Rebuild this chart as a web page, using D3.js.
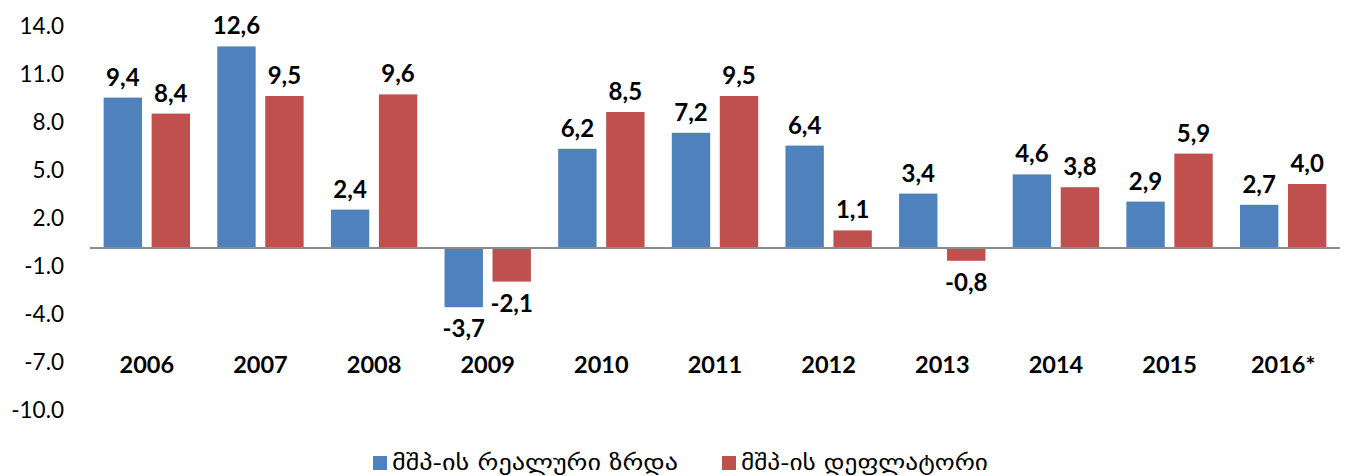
<!DOCTYPE html>
<html>
<head>
<meta charset="utf-8">
<script src="https://cdn.jsdelivr.net/npm/d3@7"></script>
<style>
  body { margin: 0; background: #fff; }
  text { font-family: Lato, "Open Sans", "DejaVu Sans", sans-serif; }
  .geo { font-family: "DejaVu Sans", sans-serif; }
</style>
</head>
<body>
<svg id="chart" width="1345" height="476"></svg>
<script>
// data
var years = ["2006", "2007", "2008", "2009", "2010", "2011", "2012", "2013", "2014", "2015", "2016*"];
var realGrowth = [9.4, 12.6, 2.4, -3.7, 6.2, 7.2, 6.4, 3.4, 4.6, 2.9, 2.7];
var deflator = [8.4, 9.5, 9.6, -2.1, 8.5, 9.5, 1.1, -0.8, 3.8, 5.9, 4.0];
var seriesNames = ["მშპ-ის რეალური ზრდა", "მშპ-ის დეფლატორი"];
var yTicks = [14, 11, 8, 5, 2, -1, -4, -7, -10];

var colors = ["#4F81BD", "#C0504D"];

// plain hyphen instead of unicode minus
function fmt(v, sep) { return v.toFixed(1).replace(".", sep); }

var svg = d3.select("#chart");

var x = d3.scaleBand()
    .domain(years)
    .range([90, 1340])
    .paddingInner(0.24)
    .paddingOuter(0.12);

var x1 = d3.scaleBand()
    .domain([0, 1])
    .range([0, x.bandwidth()])
    .paddingInner(0.2);

var y = d3.scaleLinear()
    .domain([-10, 14])
    .range([408, 24]);

// y axis labels (no line)
var yAxis = d3.axisLeft(y)
    .tickValues(yTicks)
    .tickFormat(function(d) { return fmt(d, "."); })
    .tickSize(0)
    .tickPadding(0);

svg.append("g")
    .attr("transform", "translate(64,0)")
    .call(yAxis)
    .call(function(g) { g.select(".domain").remove(); })
    .selectAll("text")
    .attr("font-family", "Lato, 'Open Sans', sans-serif")
    .attr("font-size", 22.5)
    .attr("fill", "#000")
    .attr("dy", "0.4em");

var rows = years.map(function(yr, i) { return {year: yr, vals: [realGrowth[i], deflator[i]]}; });

var groups = svg.selectAll("g.grp")
    .data(rows)
    .enter().append("g")
    .attr("class", "grp")
    .attr("transform", function(d) { return "translate(" + x(d.year) + ",0)"; });

groups.selectAll("rect")
    .data(function(d) { return d.vals.map(function(v, k) { return {k: k, v: v}; }); })
    .enter().append("rect")
    .attr("x", function(d) { return x1(d.k); })
    .attr("width", x1.bandwidth())
    .attr("y", function(d) { return y(Math.max(0, d.v)); })
    .attr("height", function(d) { return Math.abs(y(d.v) - y(0)); })
    .attr("fill", function(d) { return colors[d.k]; });

groups.selectAll("text.val")
    .data(function(d) { return d.vals.map(function(v, k) { return {k: k, v: v}; }); })
    .enter().append("text")
    .attr("class", "val")
    .attr("x", function(d) { return x1(d.k) + x1.bandwidth() / 2; })
    .attr("y", function(d) { return d.v >= 0 ? y(d.v) - 12 : y(d.v) + 30; })
    .attr("text-anchor", "middle")
    .attr("font-size", 24)
    .attr("font-weight", "bold")
    .attr("fill", "#000")
    .text(function(d) { return fmt(d.v, ","); });

// zero line
svg.append("line")
    .attr("x1", 90).attr("x2", 1340)
    .attr("y1", y(0)).attr("y2", y(0))
    .attr("stroke", "#8c8c8c")
    .attr("stroke-width", 2);

// category labels
svg.selectAll("text.cat")
    .data(years)
    .enter().append("text")
    .attr("class", "cat")
    .attr("x", function(d) { return x(d) + x.bandwidth() / 2; })
    .attr("y", 373)
    .attr("text-anchor", "middle")
    .attr("font-size", 23.5)
    .attr("font-weight", "bold")
    .text(function(d) { return d; });

// legend
var legendX = [373, 722];
var legendW = [286, 247];
var legend = svg.selectAll("g.leg")
    .data(seriesNames)
    .enter().append("g")
    .attr("class", "leg")
    .attr("transform", function(d, i) { return "translate(" + legendX[i] + ",456)"; });

legend.append("rect")
    .attr("width", 14).attr("height", 14)
    .attr("fill", function(d, i) { return colors[i]; });

legend.append("text")
    .attr("class", "geo")
    .attr("x", 19)
    .attr("y", 14)
    .attr("font-size", 21)
    .attr("textLength", function(d, i) { return legendW[i]; })
    .attr("lengthAdjust", "spacingAndGlyphs")
    .text(function(d) { return d; });
</script>
</body>
</html>
